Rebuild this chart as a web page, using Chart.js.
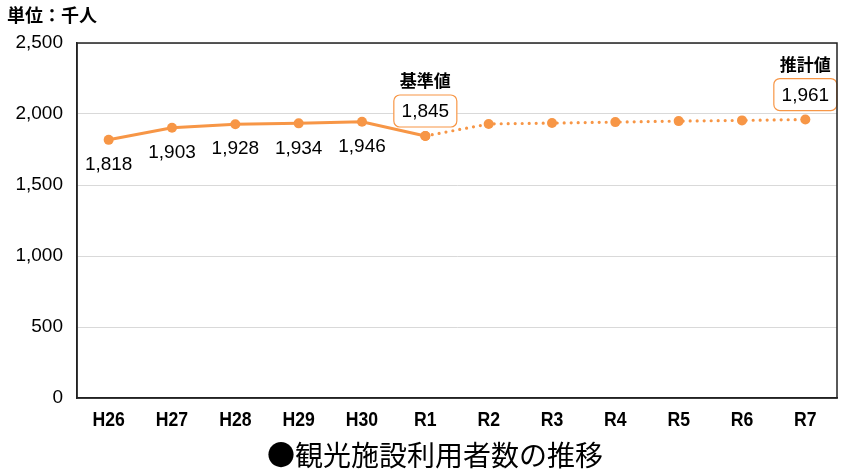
<!DOCTYPE html>
<html>
<head>
<meta charset="utf-8">
<script src="https://cdn.jsdelivr.net/npm/chart.js@4.4.0/dist/chart.umd.min.js"></script>
<style>
  html, body { margin: 0; padding: 0; background: #fff; }
  #wrap { width: 842px; height: 472px; }
</style>
</head>
<body>
<div id="wrap"><canvas id="chart" width="842" height="472"></canvas></div>
<script>
// data
const years = ['H26', 'H27', 'H28', 'H29', 'H30', 'R1', 'R2', 'R3', 'R4', 'R5', 'R6', 'R7'];
const actual = [1818, 1903, 1928, 1934, 1946, 1845, null, null, null, null, null, null];
const forecast = [null, null, null, null, null, 1845, 1930, 1936, 1943, 1950, 1955, 1961];
const yTicks = [0, 500, 1000, 1500, 2000, 2500];
const boxedLabels = { 5: '基準値', 11: '推計値' };

const orange = '#F79646';
const jpFont = '"Noto Sans CJK JP", "Liberation Sans", sans-serif';
const numFont = '"Liberation Sans", Arial, sans-serif';

const labelPlugin = {
    id: 'labels',
    afterDatasetsDraw(chart) {
        const ctx = chart.ctx;
        const xs = chart.scales.x, ys = chart.scales.y;
        ctx.save();
        ctx.textAlign = 'center';
        ctx.textBaseline = 'middle';
        // values under the actual points
        actual.forEach((v, i) => {
            if (v === null || boxedLabels[i]) return;
            ctx.fillStyle = '#000';
            ctx.font = '19px ' + numFont;
            ctx.fillText(v.toLocaleString('en-US'), xs.getPixelForValue(i), ys.getPixelForValue(v) + 25);
        });
        // boxed values with a heading
        Object.keys(boxedLabels).forEach(k => {
            const i = Number(k);
            const v = forecast[i];
            const x = Math.min(xs.getPixelForValue(i), chart.width - 34);
            const y = ys.getPixelForValue(v);
            const w = 63, h = 32;
            const bottom = y - 9;
            ctx.beginPath();
            ctx.roundRect(x - w / 2, bottom - h, w, h, 6);
            ctx.fillStyle = '#fff';
            ctx.fill();
            ctx.strokeStyle = orange;
            ctx.lineWidth = 1.2;
            ctx.stroke();
            ctx.fillStyle = '#000';
            ctx.font = '19px ' + numFont;
            ctx.fillText(v.toLocaleString('en-US'), x, bottom - h / 2 + 1);
            ctx.font = 'bold 17px ' + jpFont;
            ctx.fillText(boxedLabels[k], x, bottom - h - 14);
        });
        ctx.restore();
    },
    afterDraw(chart) {
        const ctx = chart.ctx;
        const xs = chart.scales.x;
        ctx.save();
        ctx.fillStyle = '#000';
        ctx.textBaseline = 'middle';
        // condensed category labels (no narrow font installed, so squeeze a bold one)
        ctx.textAlign = 'center';
        ctx.font = 'bold 21px ' + numFont;
        years.forEach((lab, i) => {
            const x = xs.getPixelForValue(i);
            ctx.save();
            ctx.translate(x, 420);
            ctx.scale(0.84, 1);
            ctx.fillText(lab, 0, 0);
            ctx.restore();
        });
        ctx.textAlign = 'left';
        ctx.font = 'bold 18px ' + jpFont;
        ctx.fillText('単位：千人', 7, 15);
        ctx.textAlign = 'center';
        ctx.font = '28px ' + jpFont;
        ctx.fillText('●観光施設利用者数の推移', 435, 455);
        ctx.restore();
    }
};

new Chart(document.getElementById('chart'), {
    type: 'line',
    data: {
        labels: years,
        datasets: [
            {
                data: actual,
                borderColor: orange,
                backgroundColor: orange,
                borderWidth: 3,
                pointRadius: 5,
                pointBorderWidth: 0,
                tension: 0
            },
            {
                data: forecast,
                borderColor: orange,
                backgroundColor: orange,
                borderWidth: 3.2,
                borderDash: [0, 7],
                borderCapStyle: 'round',
                pointRadius: 5,
                pointBorderWidth: 0,
                tension: 0
            }
        ]
    },
    options: {
        responsive: false,
        animation: false,
        layout: { padding: { top: 43, right: -1, left: 0, bottom: 0 } },
        plugins: {
            legend: { display: false },
            tooltip: { enabled: false }
        },
        scales: {
            x: {
                offset: true,
                grid: { display: false, drawTicks: false },
                border: { color: '#222', width: 1.5 },
                ticks: { display: false },
                afterFit(scale) { scale.height = 74; }
            },
            y: {
                min: 0,
                max: 2500,
                afterBuildTicks(scale) { scale.ticks = yTicks.map(v => ({ value: v })); },
                grid: { color: '#d9d9d9', drawTicks: false },
                border: { color: '#222', width: 1.5 },
                ticks: {
                    color: '#000',
                    padding: 14,
                    font: { family: numFont, size: 19 },
                    callback: v => v.toLocaleString('en-US')
                },
                afterFit(scale) { scale.width = 77; }
            }
        }
    },
    plugins: [labelPlugin, {
        id: 'frame',
        afterDraw(chart) {
            const a = chart.chartArea;
            const ctx = chart.ctx;
            ctx.save();
            ctx.strokeStyle = '#222';
            ctx.lineWidth = 1.5;
            ctx.strokeRect(a.left, a.top, a.right - a.left, a.bottom - a.top);
            ctx.restore();
        }
    }]
});
</script>
</body>
</html>
